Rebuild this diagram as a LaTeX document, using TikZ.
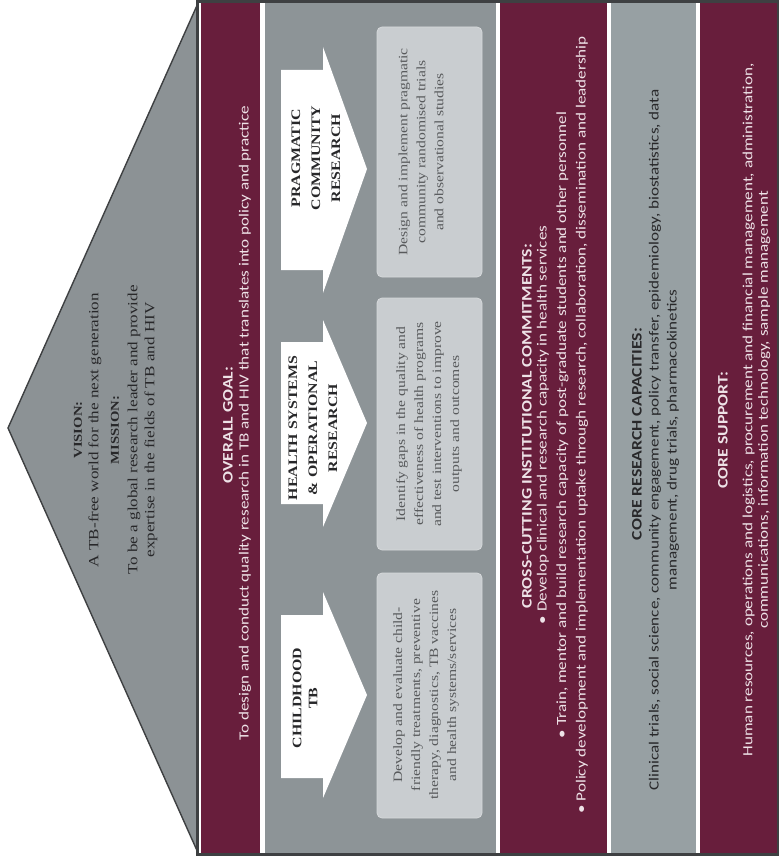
\documentclass[tikz,border=0pt]{standalone}
\usepackage{fontspec}
\setmainfont{Liberation Serif}[FakeStretch=1.22]
\newfontfamily\calfont{Carlito}[FakeStretch=1.22]
\begin{document}
\begin{tikzpicture}[x=1pt,y=-1pt]
  % palette
  \definecolor{wine}{RGB}{104,30,60}
  \definecolor{bandgray}{RGB}{141,148,151}
  \definecolor{roofgray}{RGB}{140,146,149}
  \definecolor{coregray}{RGB}{151,160,163}
  \definecolor{panel}{RGB}{201,205,208}
  \definecolor{paneledge}{RGB}{214,217,219}
  \definecolor{framedark}{RGB}{62,64,66}
  \definecolor{paletext}{RGB}{238,226,231}
  \definecolor{inktext}{RGB}{40,40,42}
  \definecolor{boxtext}{RGB}{88,90,92}
  \tikzset{
    rot/.style={rotate=90, anchor=center, inner sep=0pt, align=center},
    rooftitle/.style={rot, font=\bfseries\fontsize{12}{14}\selectfont, text=inktext},
    rooftext/.style={rot, font=\fontsize{14}{17}\selectfont, text=inktext},
    arrowlabel/.style={rot, font=\bfseries\fontsize{13}{20}\selectfont, text=inktext},
    panelbox/.style={fill=panel, draw=paneledge, line width=0.8pt, rounded corners=5pt},
    paneltext/.style={rot, font=\fontsize{12.8}{18}\selectfont, text=boxtext},
    bandtitle/.style={rot, font=\calfont\bfseries\fontsize{14.5}{18}\selectfont},
    bandtext/.style={rot, font=\calfont\fontsize{14}{19.5}\selectfont},
    bigarrow/.style={fill=white}
  }
  \useasboundingbox (0,0) rectangle (779,856);

  % roof triangle
  \draw[fill=roofgray, draw=framedark, line width=1.4pt, line join=miter]
    (199,1) -- (8,428) -- (199,855) -- cycle;

  % body frame and horizontal bands
  \fill[framedark] (196,0) rectangle (779,856);
  \fill[white] (199,3) rectangle (777,853);
  \fill[wine] (201,3) rectangle (260,853);
  \fill[bandgray] (265,3) rectangle (496,853);
  \fill[wine] (500,3) rectangle (607,853);
  \fill[coregray] (611,3) rectangle (696,853);
  \fill[wine] (700,3) rectangle (777,853);

  % vision and mission
  \node[rooftitle] (vision) at (78,430) {VISION:};
  \node[rooftext] (visiontext) at (95,430) {A TB-free world for the next generation};
  \node[rooftitle] (mission) at (115,430) {MISSION:};
  \node[rooftext] (missiontext) at (142.5,430)
    {To be a global research leader and provide\\expertise in the fields of TB and HIV};

  % overall goal
  \node[bandtitle, text=paletext] (goal) at (228,425) {OVERALL GOAL:};
  \node[bandtext, text=paletext] (goaltext) at (245,423)
    {To design and conduct quality research in TB and HIV that translates into policy and practice};

  % research programme arrows
  \fill[bigarrow] (281,70) -- (323,70) -- (323,47) -- (367,169) -- (323,293)
    -- (323,270) -- (281,270) -- cycle;
  \fill[bigarrow] (281,342) -- (323,342) -- (323,320) -- (367,423) -- (323,527)
    -- (323,504) -- (281,504) -- cycle;
  \fill[bigarrow] (281,615) -- (323,615) -- (323,592) -- (367,695) -- (323,798)
    -- (323,778) -- (281,778) -- cycle;
  \node[arrowlabel] (pragmatic) at (316,158) {PRAGMATIC\\COMMUNITY\\RESEARCH};
  \node[arrowlabel] (healthsys) at (313,428) {HEALTH SYSTEMS\\\&~OPERATIONAL\\RESEARCH};
  \node[arrowlabel, font=\bfseries\fontsize{13}{16}\selectfont] (childtb) at (305,698) {CHILDHOOD\\TB};

  % programme descriptions
  \path[panelbox] (377,27) rectangle (482,277);
  \path[panelbox] (377,298) rectangle (482,550);
  \path[panelbox] (377,573) rectangle (482,818);
  \node[paneltext] (pragtext) at (421,152)
    {Design and implement pragmatic\\community randomised trials\\and observational studies};
  \node[paneltext] (healthtext) at (429,424)
    {Identify gaps in the quality and\\effectiveness of health programs\\and test interventions to improve\\outputs and outcomes};
  \node[paneltext] (childtext) at (426,695)
    {Develop and evaluate child-\\friendly treatments, preventive\\therapy, diagnostics, TB vaccines\\and health systems/services};

  % cross-cutting commitments
  \node[bandtitle, text=paletext] (cross) at (527,426) {CROSS-CUTTING INSTITUTIONAL COMMITMENTS:};
  \node[bandtext, text=paletext] (crosstext) at (562.5,425)
    {\textbullet\ Develop clinical and research capacity in health services\\
     \textbullet\ Train, mentor and build research capacity of post-graduate students and other personnel\\
     \textbullet\ Policy development and implementation uptake through research, collaboration, dissemination and leadership};

  % core research capacities
  \node[bandtitle, text=inktext] (capac) at (637,434) {CORE RESEARCH CAPACITIES:};
  \node[bandtext, text=inktext, font=\calfont\fontsize{14}{18}\selectfont] (capactext) at (664,440)
    {Clinical trials, social science, community engagement, policy transfer, epidemiology, biostatistics, data\\
     management, drug trials, pharmacokinetics};

  % core support
  \node[bandtitle, text=paletext] (support) at (723,430) {CORE SUPPORT:};
  \node[bandtext, text=paletext, font=\calfont\fontsize{14}{15.5}\selectfont] (supporttext) at (756.5,410)
    {Human resources, operations and logistics, procurement and financial management, administration,\\
     communications, information technology, sample management};
\end{tikzpicture}
\end{document}
